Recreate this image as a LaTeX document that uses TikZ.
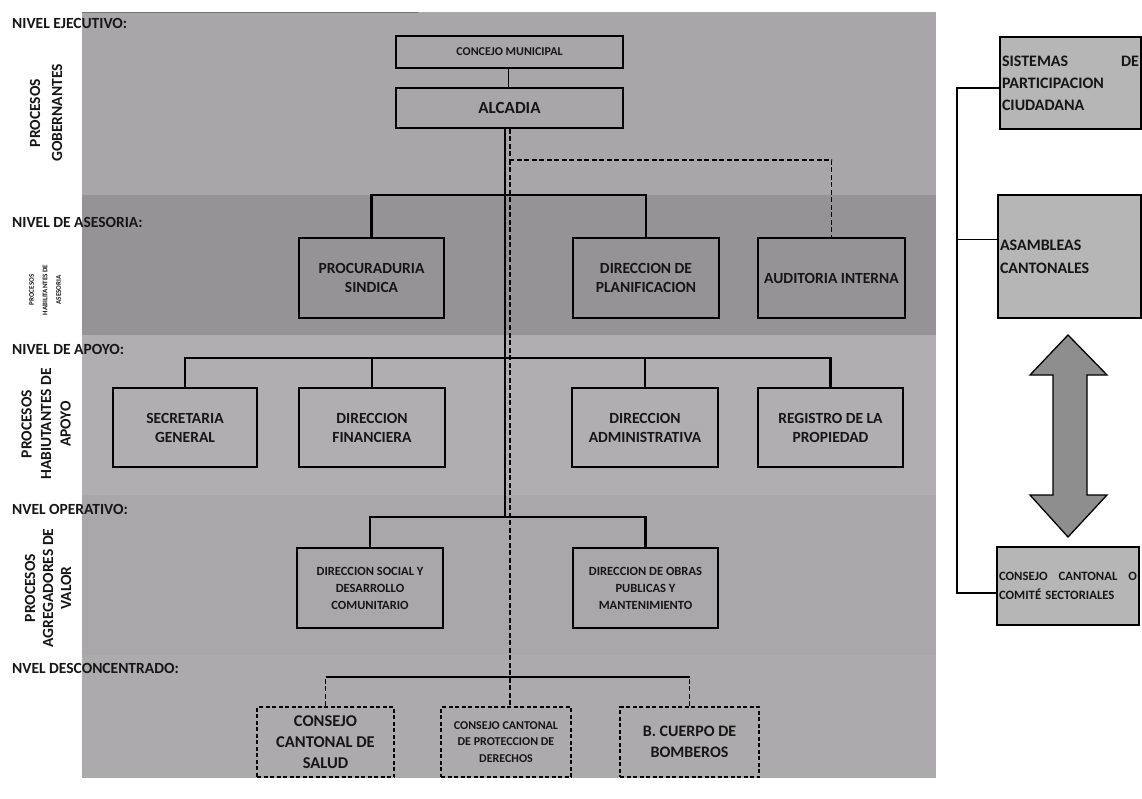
\documentclass[tikz,border=0pt]{standalone}
\usepackage{fontspec}
\setmainfont{Carlito}
\definecolor{bandA}{RGB}{169,166,169}
\definecolor{bandB}{RGB}{150,147,150}
\definecolor{bandC}{RGB}{177,174,177}
\definecolor{bandD}{RGB}{170,167,170}
\definecolor{bandE}{RGB}{172,170,172}
\definecolor{rbox}{RGB}{182,182,182}
\definecolor{arrowfill}{RGB}{142,142,142}
\definecolor{txt}{RGB}{22,22,22}
\tikzset{
  mbox/.style={draw=black, line width=2.6pt, inner sep=0pt, align=center, text=txt,
    font=\fontsize{15.5}{19}\selectfont\bfseries},
  dbox/.style={mbox, line width=1.8pt, dash pattern=on 4pt off 2.5pt},
  rbx/.style={draw=black, line width=1.3pt, fill=rbox, inner sep=2pt, align=left, text=txt},
  conn/.style={line width=2.4pt, black},
  dsh/.style={line width=1.6pt, black, dash pattern=on 5pt off 2.5pt},
  lbl/.style={anchor=west, inner sep=0pt, text=txt, font=\fontsize{15.5}{18}\selectfont\bfseries},
  rlbl/.style={rotate=90, inner sep=0pt, align=center, text=txt}
}
\begin{document}
\begin{tikzpicture}[x=1pt,y=-1pt]
\useasboundingbox (0,0) rectangle (1142,799);
\fill[white] (0,0) rectangle (1142,799);
% bands
\fill[bandA] (82,12) rectangle (936,195);
\fill[bandB] (82,195) rectangle (936,335);
\fill[bandC] (82,335) rectangle (936,495);
\fill[bandD] (82,495) rectangle (936,655);
\fill[bandE] (82,655) rectangle (936,778);
\draw[line width=1.5pt, black!55] (82,12.5) -- (418,12.5);

% level labels
\node[lbl] (lejec) at (12,23) {NIVEL EJECUTIVO:};
\node[lbl] (lases) at (12,222) {NIVEL DE ASESORIA:};
\node[lbl] (lapoyo) at (12,349) {NIVEL DE APOYO:};
\node[lbl] (loper) at (12,509) {NVEL OPERATIVO:};
\node[lbl] (ldesc) at (12,668) {NVEL DESCONCENTRADO:};

\node[rlbl, font=\fontsize{15.5}{22}\selectfont\bfseries] (pgob) at (46,113) {PROCESOS\\GOBERNANTES};
\node[rlbl, font=\fontsize{7}{13.5}\selectfont\bfseries] (pases) at (45,290) {PROCESOS\\HABILITANTES DE\\ASESORIA};
\node[rlbl, font=\fontsize{15.5}{19.5}\selectfont\bfseries] (papoyo) at (46,424) {PROCESOS\\HABIUTANTES DE\\APOYO};
\node[rlbl, font=\fontsize{15.5}{18}\selectfont\bfseries] (pagreg) at (48,588) {PROCESOS\\AGREGADORES DE\\VALOR};

% executive
\node[mbox, line width=2pt, minimum width=227pt, minimum height=32pt, font=\fontsize{12}{14}\selectfont\bfseries] (concejo) at (509.5,52) {CONCEJO MUNICIPAL};
\node[mbox, line width=2pt, minimum width=227pt, minimum height=40pt, font=\fontsize{17}{20}\selectfont\bfseries] (alcadia) at (509.5,108) {ALCADIA};

% advisory
\node[mbox, minimum width=145pt, minimum height=80pt] (procu) at (371.5,278) {PROCURADURIA\\SINDICA};
\node[mbox, minimum width=146pt, minimum height=80pt] (planif) at (646,278) {DIRECCION DE\\PLANIFICACION};
\node[mbox, minimum width=147pt, minimum height=80pt] (audit) at (831.5,278) {AUDITORIA INTERNA};

% support
\node[mbox, minimum width=144pt, minimum height=79pt] (secre) at (185,427.5) {SECRETARIA\\GENERAL};
\node[mbox, minimum width=146pt, minimum height=79pt] (finan) at (372,427.5) {DIRECCION\\FINANCIERA};
\node[mbox, minimum width=146pt, minimum height=79pt] (admin) at (645,427.5) {DIRECCION\\ADMINISTRATIVA};
\node[mbox, minimum width=145pt, minimum height=79pt] (regis) at (830.5,427.5) {REGISTRO DE LA\\PROPIEDAD};

% operative
\node[mbox, minimum width=146pt, minimum height=80pt, font=\fontsize{12.5}{17}\selectfont\bfseries] (social) at (370,588) {DIRECCION SOCIAL Y\\DESARROLLO\\COMUNITARIO};
\node[mbox, minimum width=145pt, minimum height=80pt, font=\fontsize{12.5}{17}\selectfont\bfseries] (obras) at (645.5,588) {DIRECCION DE OBRAS\\PUBLICAS Y\\MANTENIMIENTO};

% deconcentrated
\node[dbox, minimum width=137pt, minimum height=70pt, font=\fontsize{16.5}{21}\selectfont\bfseries] (salud) at (325.5,742) {CONSEJO\\CANTONAL DE\\SALUD};
\node[dbox, minimum width=130pt, minimum height=70pt, font=\fontsize{12}{16.5}\selectfont\bfseries] (protec) at (506,742) {CONSEJO CANTONAL\\DE PROTECCION DE\\DERECHOS};
\node[dbox, minimum width=139pt, minimum height=70pt, font=\fontsize{16}{20.5}\selectfont\bfseries] (bomb) at (689.5,742) {B. CUERPO DE\\BOMBEROS};

% right column
\node[rbx, text width=137pt, minimum height=92pt, font=\fontsize{16}{22}\selectfont\bfseries] (sist) at (1070.5,83) {\hbox to 137pt{SISTEMAS\hfill DE}\\PARTICIPACION\\CIUDADANA};
\node[rbx, text width=139pt, minimum height=123pt, font=\fontsize{16}{23}\selectfont\bfseries] (asamb) at (1069.5,256.5) {ASAMBLEAS\\CANTONALES};
\node[rbx, text width=138pt, minimum height=78pt, font=\fontsize{12.7}{19}\selectfont\bfseries] (conscc) at (1068,586) {\hbox to 138pt{CONSEJO\hfill CANTONAL\hfill O}\\COMIT\'E SECTORIALES};

% connectors
\coordinate (trunk) at (505,517);
\coordinate (dj) at (510,160);
\coordinate (asbar) at (0,195);
\coordinate (apbar) at (0,358);
\coordinate (dsbar) at (0,677);
\coordinate (br) at (957,0);
\coordinate (sistin) at ([yshift=-5pt]sist.west);
\coordinate (asin) at ([yshift=17.5pt]asamb.west);
\coordinate (ccin) at ([yshift=-7pt]conscc.west);

\draw[line width=1pt] ([xshift=-1.5pt]concejo.south) -- ([xshift=-1.5pt]alcadia.north);
\draw[conn] (alcadia.south -| trunk) -- (trunk);
\draw[dsh] (alcadia.south -| dj) -- (dj) -| (audit.north);
\draw[dsh] (dj) -- (dj |- protec.north);
\draw[conn] (procu.north) |- (asbar -| planif.north) -- (planif.north);
\draw[conn] (secre.north) |- (apbar -| regis.north) -- (regis.north);
\draw[conn] (finan.north) -- (finan.north |- apbar);
\draw[conn] (admin.north) -- (admin.north |- apbar);
\draw[conn] (social.north) |- (trunk -| obras.north) -- (obras.north);
\draw[conn] (salud.north |- dsbar) -- (bomb.north |- dsbar);
\draw[dsh, line width=1.3pt] (salud.north) -- (salud.north |- dsbar);
\draw[dsh, line width=1.3pt] (bomb.north) -- (bomb.north |- dsbar);

% bracket
\draw[line width=1.4pt] (sistin) -| (br |- ccin) -- (ccin);
\draw[line width=0.9pt] (br |- asin) -- (asin);

% double arrow
\filldraw[fill=arrowfill, draw=black, line width=1.3pt, line join=miter]
  (1068,335) -- (1107,375) -- (1087,375) -- (1087,495) -- (1107,495) -- (1068,537)
  -- (1030,495) -- (1053,495) -- (1053,375) -- (1030,375) -- cycle;
\end{tikzpicture}
\end{document}
